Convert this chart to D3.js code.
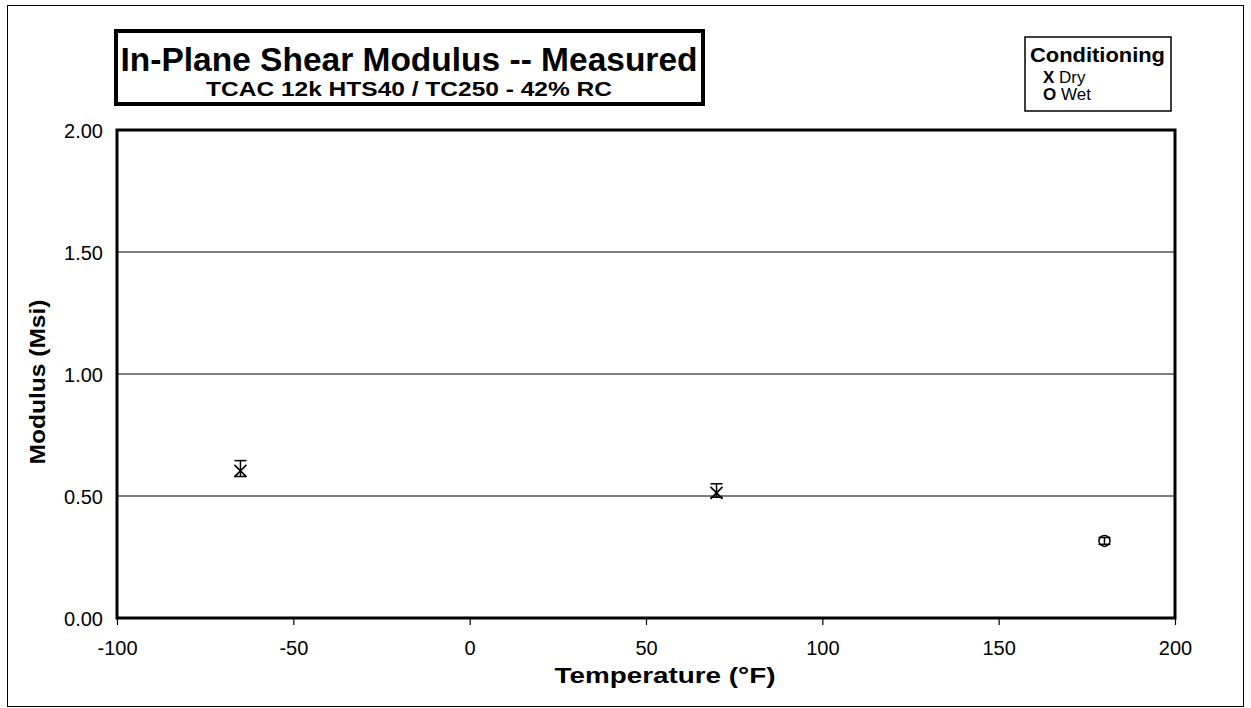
<!DOCTYPE html>
<html><head><meta charset="utf-8">
<script src="https://cdn.jsdelivr.net/npm/d3@7"></script>
<style>
body{margin:0;background:#fff;}
svg text{font-family:"Liberation Sans",Arial,sans-serif;}
</style></head>
<body><svg id="c" width="1251" height="708"></svg>
<script>
const xTicks = [-100,-50,0,50,100,150,200];
const yTicks = [0,0.5,1.0,1.5,2.0];
const dryTemp = [-65, 70];
const dryMean = [0.603, 0.513];
const dryHigh = [0.645, 0.550];
const dryLow  = [0.580, 0.495];
const wetTemp = [180];
const wetMean = [0.316];
const wetHigh = [0.330];
const wetLow  = [0.302];

const svg = d3.select("#c");
const L=117,R=1175,T=130,B=618;
const x = d3.scaleLinear().domain([-100,200]).range([L,R]);
const y = d3.scaleLinear().domain([0,2]).range([B,T]);

// outer border
svg.append("rect").attr("x",7.5).attr("y",5.5).attr("width",1236).attr("height",701)
  .attr("fill","none").attr("stroke","#000").attr("stroke-width",1);

// gridlines
svg.append("g").selectAll("line").data(yTicks.filter(d=>d>0&&d<2)).join("line")
  .attr("x1",L).attr("x2",R).attr("y1",d=>y(d)).attr("y2",d=>y(d))
  .attr("stroke","#000").attr("stroke-width",1.2);

// x axis
const xa = svg.append("g").attr("transform",`translate(0,${B})`)
  .call(d3.axisBottom(x).tickValues(xTicks).tickSize(7).tickSizeOuter(0).tickFormat(d=>String(d)));
xa.select(".domain").remove();
xa.selectAll("line").attr("stroke-width",1.2);
xa.selectAll("text").attr("font-size",20).attr("y",37).attr("dy",0).attr("fill","#000");

// y axis
const ya = svg.append("g").attr("transform",`translate(${L},0)`)
  .call(d3.axisLeft(y).tickValues(yTicks).tickSize(0).tickPadding(14).tickFormat(d3.format(".2f")));
ya.select(".domain").remove();
ya.selectAll("text").attr("font-size",20).attr("dy","0.35em").attr("fill","#000");

// frame
svg.append("rect").attr("x",L).attr("y",T).attr("width",R-L).attr("height",B-T)
  .attr("fill","none").attr("stroke","#000").attr("stroke-width",3);

// axis titles
svg.append("text").attr("x",665).attr("y",683).attr("text-anchor","middle")
  .attr("font-size",22).attr("font-weight","bold").attr("textLength",221).attr("lengthAdjust","spacingAndGlyphs")
  .text("Temperature (°F)");
svg.append("text").attr("transform",`translate(45,382) rotate(-90)`).attr("text-anchor","middle")
  .attr("font-size",22).attr("font-weight","bold").attr("textLength",165).attr("lengthAdjust","spacingAndGlyphs")
  .text("Modulus (Msi)");

// error bars
function errbars(temps, hi, lo){
  const g = svg.append("g").attr("stroke","#000").attr("stroke-width",1.5);
  temps.forEach((t,i)=>{
    const cx=x(t);
    g.append("line").attr("x1",cx).attr("x2",cx).attr("y1",y(hi[i])).attr("y2",y(lo[i]));
    g.append("line").attr("x1",cx-6).attr("x2",cx+6).attr("y1",y(hi[i])).attr("y2",y(hi[i]));
    g.append("line").attr("x1",cx-6).attr("x2",cx+6).attr("y1",y(lo[i])).attr("y2",y(lo[i]));
  });
}
errbars(dryTemp,dryHigh,dryLow);
errbars(wetTemp,wetHigh,wetLow);

// dry X markers
svg.append("g").selectAll("path").data(dryTemp.map((t,i)=>[t,dryMean[i]])).join("path")
  .attr("d",d=>{const cx=x(d[0]),cy=y(d[1]),s=6;return `M${cx-s},${cy-s}L${cx+s},${cy+s}M${cx+s},${cy-s}L${cx-s},${cy+s}`;})
  .attr("stroke","#000").attr("stroke-width",1.6).attr("fill","none");
// wet O markers
svg.append("g").selectAll("circle").data(wetTemp.map((t,i)=>[t,wetMean[i]])).join("circle")
  .attr("cx",d=>x(d[0])).attr("cy",d=>y(d[1])).attr("r",5.5)
  .attr("stroke","#000").attr("stroke-width",1.5).attr("fill","none");

// title box
svg.append("rect").attr("x",116).attr("y",31).attr("width",587).attr("height",73)
  .attr("fill","#fff").attr("stroke","#000").attr("stroke-width",4);
svg.append("text").attr("x",409).attr("y",71).attr("text-anchor","middle")
  .attr("font-size",33).attr("font-weight","bold").attr("textLength",577).attr("lengthAdjust","spacingAndGlyphs")
  .text("In-Plane Shear Modulus -- Measured");
svg.append("text").attr("x",409).attr("y",96).attr("text-anchor","middle")
  .attr("font-size",20).attr("font-weight","bold").attr("textLength",406).attr("lengthAdjust","spacingAndGlyphs")
  .text("TCAC 12k  HTS40 / TC250 - 42% RC");

// legend box
svg.append("rect").attr("x",1025).attr("y",37).attr("width",146).attr("height",74)
  .attr("fill","#fff").attr("stroke","#000").attr("stroke-width",1.5);
svg.append("text").attr("x",1030).attr("y",62).attr("font-size",20).attr("font-weight","bold")
  .attr("textLength",135).attr("lengthAdjust","spacingAndGlyphs").text("Conditioning");
const leg = [["X","Dry"],["O","Wet"]];
leg.forEach((d,i)=>{
  const t = svg.append("text").attr("x",1043).attr("y",83+i*17).attr("font-size",17);
  t.append("tspan").attr("font-weight","bold").text(d[0]);
  t.append("tspan").text(" "+d[1]);
});
</script></body></html>
